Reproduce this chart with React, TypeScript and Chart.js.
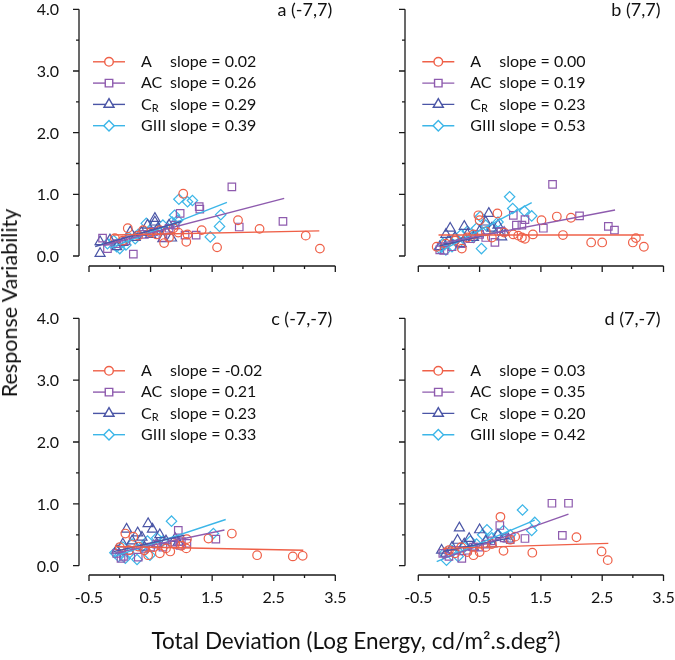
import React, { useEffect, useRef } from 'react';
import { Chart, registerables } from 'chart.js';
import { drawPoint } from 'chart.js/helpers';
Chart.register(...registerables);

const FONT = 'Lato, "Open Sans", sans-serif';

// ---------- series meta ----------
const seriesNames = ['A', 'AC', 'C_R', 'GIII'];
const seriesColors = ['#EF6048', '#8E5BAE', '#4A55A6', '#3CB6E8'];
const seriesMarkers = ['circle', 'rect', 'triangle', 'rectRot'];
const markerRadius = [4.3, 5.3, 5.8, 5.2];

const panelTitles = ['a (-7,7)', 'b (7,7)', 'c (-7,-7)', 'd (7,-7)'];
const yTickValues = [0, 1, 2, 3, 4];
const yTickLabels = ['0.0', '1.0', '2.0', '3.0', '4.0'];
const xTickValues = [-0.5, 0.5, 1.5, 2.5, 3.5];
const xTickLabels = ['-0.5', '0.5', '1.5', '2.5', '3.5'];

// ---------- panel a (-7,7) ----------
const aAx = [-0.08, 0.05, 0.13, 0.3, 0.38, 0.5, 0.6, 0.65, 0.72, 0.8, 0.87, 0.95, 1.03, 1.08, 1.1, 1.33, 1.58, 1.92, 2.27, 3.02, 3.25];
const aAy = [0.29, 0.25, 0.45, 0.33, 0.42, 0.38, 0.35, 0.42, 0.21, 0.3, 0.45, 0.38, 1.01, 0.23, 0.35, 0.42, 0.14, 0.58, 0.44, 0.33, 0.12];
const aACx = [-0.28, -0.2, -0.05, 0.1, 0.22, 0.4, 0.55, 0.7, 0.8, 0.9, 0.98, 1.06, 1.24, 1.29, 1.3, 1.82, 1.94, 2.65];
const aACy = [0.29, 0.12, 0.2, 0.25, 0.03, 0.35, 0.4, 0.3, 0.45, 0.5, 0.69, 0.34, 0.34, 0.8, 0.76, 1.12, 0.47, 0.56];
const aCRx = [-0.32, -0.32, -0.16, -0.05, 0.05, 0.17, 0.25, 0.35, 0.45, 0.5, 0.57, 0.57, 0.62, 0.7, 0.75, 0.8, 0.84];
const aCRy = [0.04, 0.23, 0.26, 0.15, 0.22, 0.39, 0.3, 0.38, 0.5, 0.35, 0.61, 0.55, 0.45, 0.28, 0.4, 0.5, 0.29];
const aGx = [-0.2, -0.1, -0.05, 0.0, 0.05, 0.1, 0.15, 0.25, 0.3, 0.43, 0.5, 0.6, 0.7, 0.85, 0.89, 0.94, 0.96, 1.1, 1.18, 1.47, 1.62, 1.64];
const aGy = [0.2, 0.25, 0.15, 0.12, 0.22, 0.18, 0.3, 0.28, 0.35, 0.53, 0.4, 0.42, 0.5, 0.55, 0.66, 0.58, 0.92, 0.88, 0.9, 0.31, 0.48, 0.67];
const aSlopes = [0.02, 0.26, 0.29, 0.39];
const aIntercepts = [0.342, 0.24, 0.27, 0.19];
const aFitStart = [-0.11, -0.27, -0.4, -0.16];
const aFitEnd = [3.24, 2.67, 1.0, 1.74];

// ---------- panel b (7,7) ----------
const bAx = [-0.2, -0.05, 0.1, 0.21, 0.3, 0.4, 0.48, 0.5, 0.6, 0.7, 0.79, 0.9, 1.05, 1.13, 1.19, 1.24, 1.37, 1.51, 1.76, 1.86, 1.99, 2.32, 2.5, 3.0, 3.05, 3.18];
const bAy = [0.15, 0.2, 0.25, 0.12, 0.3, 0.35, 0.66, 0.58, 0.4, 0.3, 0.69, 0.38, 0.35, 0.33, 0.3, 0.28, 0.35, 0.58, 0.64, 0.34, 0.62, 0.22, 0.22, 0.22, 0.29, 0.15];
const bACx = [-0.15, -0.08, 0.05, 0.2, 0.35, 0.5, 0.6, 0.75, 0.85, 1.05, 1.1, 1.19, 1.24, 1.54, 1.69, 2.13, 2.6, 2.7];
const bACy = [0.1, 0.09, 0.15, 0.2, 0.28, 0.35, 0.3, 0.22, 0.4, 0.66, 0.5, 0.5, 0.59, 0.45, 1.16, 0.65, 0.48, 0.42];
const bCRx = [-0.15, -0.05, 0.0, 0.02, 0.1, 0.2, 0.25, 0.3, 0.4, 0.5, 0.6, 0.65, 0.7, 0.8, 0.86, 0.9];
const bCRy = [0.15, 0.35, 0.25, 0.45, 0.3, 0.2, 0.48, 0.35, 0.3, 0.4, 0.55, 0.69, 0.45, 0.5, 0.31, 0.38];
const bGx = [-0.15, -0.1, -0.05, 0.0, 0.05, 0.1, 0.15, 0.2, 0.3, 0.4, 0.45, 0.51, 0.53, 0.6, 0.7, 0.8, 0.99, 1.04, 1.23, 1.35];
const bGy = [0.12, 0.2, 0.1, 0.25, 0.15, 0.3, 0.2, 0.35, 0.4, 0.3, 0.45, 0.64, 0.12, 0.5, 0.45, 0.55, 0.96, 0.77, 0.73, 0.65];
const bSlopes = [0.0, 0.19, 0.23, 0.53];
const bIntercepts = [0.34, 0.23, 0.2, 0.15];
const bFitStart = [-0.17, -0.2, -0.15, -0.15];
const bFitEnd = [3.18, 2.71, 0.95, 1.35];

// ---------- panel c (-7,-7) ----------
const cAx = [0.0, 0.09, 0.15, 0.22, 0.3, 0.4, 0.46, 0.55, 0.65, 0.75, 0.82, 0.9, 1.0, 1.08, 1.09, 1.44, 1.82, 2.23, 2.81, 2.97];
const cAy = [0.3, 0.52, 0.25, 0.47, 0.31, 0.25, 0.17, 0.3, 0.2, 0.28, 0.23, 0.35, 0.32, 0.28, 0.43, 0.44, 0.52, 0.17, 0.15, 0.16];
const cACx = [-0.05, 0.02, 0.06, 0.15, 0.3, 0.4, 0.5, 0.6, 0.7, 0.85, 0.95, 0.98, 1.0, 1.09, 1.56];
const cACy = [0.2, 0.12, 0.15, 0.25, 0.14, 0.28, 0.3, 0.35, 0.3, 0.38, 0.57, 0.33, 0.39, 0.36, 0.43];
const cCRx = [-0.05, 0.05, 0.11, 0.2, 0.29, 0.36, 0.4, 0.46, 0.53, 0.6, 0.65, 0.75, 0.9, 0.95];
const cCRy = [0.25, 0.35, 0.59, 0.4, 0.53, 0.46, 0.3, 0.68, 0.59, 0.35, 0.5, 0.4, 0.44, 0.38];
const cGx = [-0.08, -0.02, 0.05, 0.09, 0.15, 0.2, 0.28, 0.35, 0.45, 0.49, 0.6, 0.7, 0.84, 1.52];
const cGy = [0.21, 0.15, 0.3, 0.12, 0.2, 0.35, 0.1, 0.3, 0.4, 0.17, 0.45, 0.4, 0.72, 0.52];
const cSlopes = [-0.02, 0.21, 0.23, 0.33];
const cIntercepts = [0.31, 0.22, 0.25, 0.18];
const cFitStart = [-0.08, -0.08, -0.1, -0.1];
const cFitEnd = [2.98, 1.7, 1.05, 1.72];

// ---------- panel d (7,-7) ----------
const dAx = [0.0, 0.1, 0.2, 0.3, 0.4, 0.5, 0.6, 0.7, 0.84, 0.89, 1.0, 1.08, 1.36, 2.08, 2.49, 2.59];
const dAy = [0.25, 0.2, 0.3, 0.22, 0.17, 0.22, 0.3, 0.35, 0.79, 0.24, 0.42, 0.47, 0.21, 0.46, 0.23, 0.09];
const dACx = [-0.1, 0.0, 0.1, 0.21, 0.3, 0.4, 0.5, 0.6, 0.7, 0.83, 0.9, 1.0, 1.24, 1.68, 1.85, 1.95];
const dACy = [0.2, 0.15, 0.25, 0.12, 0.25, 0.3, 0.3, 0.35, 0.4, 0.65, 0.45, 0.42, 0.44, 1.01, 0.49, 1.01];
const dCRx = [-0.12, -0.05, 0.05, 0.14, 0.17, 0.25, 0.33, 0.4, 0.5, 0.6, 0.7, 0.8, 0.97];
const dCRy = [0.25, 0.2, 0.3, 0.41, 0.61, 0.35, 0.44, 0.3, 0.58, 0.4, 0.35, 0.5, 0.43];
const dGx = [-0.08, -0.04, 0.05, 0.15, 0.25, 0.35, 0.45, 0.55, 0.62, 0.7, 0.8, 0.89, 1.0, 1.2, 1.35, 1.4];
const dGy = [0.2, 0.09, 0.25, 0.15, 0.3, 0.4, 0.35, 0.5, 0.58, 0.45, 0.5, 0.57, 0.5, 0.9, 0.57, 0.7];
const dSlopes = [0.03, 0.35, 0.2, 0.42];
const dIntercepts = [0.283, 0.15, 0.25, 0.15];
const dFitStart = [-0.1, -0.1, -0.1, -0.2];
const dFitEnd = [2.6, 1.95, 1.0, 1.4];

const panels = [
  { title: panelTitles[0], xs: [aAx, aACx, aCRx, aGx], ys: [aAy, aACy, aCRy, aGy], slopes: aSlopes, intercepts: aIntercepts, fs: aFitStart, fe: aFitEnd },
  { title: panelTitles[1], xs: [bAx, bACx, bCRx, bGx], ys: [bAy, bACy, bCRy, bGy], slopes: bSlopes, intercepts: bIntercepts, fs: bFitStart, fe: bFitEnd },
  { title: panelTitles[2], xs: [cAx, cACx, cCRx, cGx], ys: [cAy, cACy, cCRy, cGy], slopes: cSlopes, intercepts: cIntercepts, fs: cFitStart, fe: cFitEnd },
  { title: panelTitles[3], xs: [dAx, dACx, dCRx, dGx], ys: [dAy, dACy, dCRy, dGy], slopes: dSlopes, intercepts: dIntercepts, fs: dFitStart, fe: dFitEnd },
];

// layout geometry (page pixels)
const geom = [
  { left: 0, top: 0, w: 352, h: 300, axisX: 79, xA: 89, xB: 335.3, yTop: 9.3, yZero: 256, axisY: 266, yLabels: true, xLabels: false },
  { left: 352, top: 0, w: 323, h: 300, axisX: 405, xA: 418.3, xB: 663.5, yTop: 9.3, yZero: 256, axisY: 266, yLabels: false, xLabels: false },
  { left: 0, top: 300, w: 352, h: 360, axisX: 79, xA: 89, xB: 335.3, yTop: 318.3, yZero: 565.7, axisY: 575, yLabels: true, xLabels: true },
  { left: 352, top: 300, w: 323, h: 360, axisX: 405, xA: 418.3, xB: 663.5, yTop: 318.3, yZero: 565.7, axisY: 575, yLabels: false, xLabels: true },
];

const AXIS_COLOR = '#1a1a1a';

const offsetAxesPlugin = {
  id: 'offsetAxes',
  afterDraw(chart: any, _args: any, opts: any) {
    const { ctx, chartArea } = chart;
    const xs = chart.scales.x;
    const ys = chart.scales.y;
    ctx.save();
    ctx.strokeStyle = AXIS_COLOR;
    ctx.lineWidth = 1.3;
    // y axis
    const ax = chartArea.left;
    const y0 = ys.getPixelForValue(0);
    const y4 = ys.getPixelForValue(4);
    ctx.beginPath();
    ctx.moveTo(ax, y0);
    ctx.lineTo(ax, y4);
    for (let v = 0; v <= 4.001; v += 0.5) {
      const py = ys.getPixelForValue(v);
      const len = Math.abs(v - Math.round(v)) < 1e-6 ? 6 : 3;
      ctx.moveTo(ax - len, py);
      ctx.lineTo(ax, py);
    }
    ctx.stroke();
    // x axis
    const ay = chartArea.bottom;
    const xA = xs.getPixelForValue(-0.5);
    const xB = xs.getPixelForValue(3.5);
    ctx.beginPath();
    ctx.moveTo(xA, ay);
    ctx.lineTo(xB, ay);
    for (let v = -0.5; v <= 3.501; v += 0.5) {
      const px = xs.getPixelForValue(v);
      const major = xTickValues.some((t) => Math.abs(t - v) < 1e-6);
      ctx.moveTo(px, ay);
      ctx.lineTo(px, ay + (major ? 6 : 3));
    }
    ctx.stroke();

    ctx.fillStyle = '#111';
    if (opts.yLabels) {
      ctx.font = `16px ${FONT}`;
      ctx.textAlign = 'right';
      ctx.textBaseline = 'middle';
      yTickValues.forEach((v, i) => {
        ctx.fillText(yTickLabels[i], ax - 20, ys.getPixelForValue(v) + 1);
      });
    }
    if (opts.xLabels) {
      ctx.font = `16px ${FONT}`;
      ctx.textAlign = 'center';
      ctx.textBaseline = 'middle';
      xTickValues.forEach((v, i) => {
        ctx.fillText(xTickLabels[i], xs.getPixelForValue(v), ay + 23);
      });
    }
    // title
    ctx.font = `18px ${FONT}`;
    ctx.textAlign = 'right';
    ctx.textBaseline = 'middle';
    ctx.fillText(opts.title, xB - 3, y4 + 1);

    // legend
    const lx = xA;
    seriesNames.forEach((name, i) => {
      const ry = y4 + 52.5 + i * 21.3;
      ctx.strokeStyle = seriesColors[i];
      ctx.lineWidth = 1.4;
      ctx.beginPath();
      ctx.moveTo(lx + 4, ry);
      ctx.lineTo(lx + 36, ry);
      ctx.stroke();
      ctx.fillStyle = '#ffffff';
      drawPoint(ctx, { pointStyle: seriesMarkers[i], radius: markerRadius[i], borderWidth: 1.3, rotation: 0 } as any, lx + 20, ry);
      ctx.fillStyle = '#111';
      ctx.textAlign = 'left';
      ctx.textBaseline = 'middle';
      ctx.font = `16px ${FONT}`;
      if (name === 'C_R') {
        ctx.fillText('C', lx + 52, ry);
        const cw = ctx.measureText('C').width;
        ctx.font = `11px ${FONT}`;
        ctx.fillText('R', lx + 52 + cw, ry + 4);
        ctx.font = `16px ${FONT}`;
      } else {
        ctx.fillText(name, lx + 52, ry);
      }
      ctx.fillText('slope = ' + opts.slopes[i].toFixed(2), lx + 81, ry);
    });
    ctx.restore();
  },
};

function Panel({ idx }: { idx: number }) {
  const ref = useRef<HTMLCanvasElement | null>(null);
  useEffect(() => {
    const g = geom[idx];
    const p = panels[idx];
    const pxPerX = (g.xB - g.xA) / 4;
    const pxPerY = (g.yZero - g.yTop) / 4;
    const xMin = -0.5 - (g.xA - g.axisX) / pxPerX;
    const yMin = -(g.axisY - g.yZero) / pxPerY;
    const datasets: any[] = [];
    seriesNames.forEach((_, s) => {
      const m = p.slopes[s];
      const b = p.intercepts[s];
      datasets.push({
        label: seriesNames[s] + ' fit',
        data: [
          { x: p.fs[s], y: b + m * p.fs[s] },
          { x: p.fe[s], y: b + m * p.fe[s] },
        ],
        showLine: true,
        borderColor: seriesColors[s],
        borderWidth: 1.4,
        pointRadius: 0,
        fill: false,
        clip: false,
        order: 0,
      });
    });
    seriesNames.forEach((_, s) => {
      datasets.push({
        label: seriesNames[s],
        data: p.xs[s].map((x, i) => ({ x, y: p.ys[s][i] })),
        showLine: false,
        pointStyle: seriesMarkers[s],
        pointRadius: markerRadius[s],
        pointBorderWidth: 1.2,
        borderColor: seriesColors[s],
        backgroundColor: 'rgba(0,0,0,0)',
        pointBackgroundColor: 'rgba(0,0,0,0)',
        clip: false,
        order: 1,
      });
    });
    const chart = new Chart(ref.current as HTMLCanvasElement, {
      type: 'scatter',
      data: { datasets },
      options: {
        responsive: false,
        animation: false,
        devicePixelRatio: 1,
        layout: {
          padding: {
            left: g.axisX - g.left,
            right: g.left + g.w - g.xB,
            top: g.yTop - g.top,
            bottom: g.top + g.h - g.axisY,
          },
        },
        scales: {
          x: { type: 'linear', min: xMin, max: 3.5, display: false },
          y: { type: 'linear', min: yMin, max: 4, display: false },
        },
        plugins: {
          legend: { display: false },
          tooltip: { enabled: false },
          offsetAxes: { title: p.title, slopes: p.slopes, yLabels: g.yLabels, xLabels: g.xLabels },
        } as any,
      },
      plugins: [offsetAxesPlugin],
    });
    return () => chart.destroy();
  }, [idx]);
  const g = geom[idx];
  return (
    <canvas
      ref={ref}
      width={g.w}
      height={g.h}
      style={{ position: 'absolute', left: g.left, top: g.top, width: g.w, height: g.h }}
    />
  );
}

export default function App() {
  return (
    <div style={{ position: 'fixed', left: 0, top: 0, width: 675, height: 660, background: '#fff', overflow: 'hidden' }}>
      {[0, 1, 2, 3].map((i) => (
        <Panel key={i} idx={i} />
      ))}
      <div
        style={{
          position: 'absolute',
          left: 9,
          top: 303,
          transform: 'translate(-50%, -50%) rotate(-90deg)',
          whiteSpace: 'nowrap',
          font: `21.5px ${FONT}`,
          color: '#111',
        }}
      >
        Response Variability
      </div>
      <div
        style={{
          position: 'absolute',
          left: 356,
          top: 640,
          transform: 'translate(-50%, -50%)',
          whiteSpace: 'nowrap',
          font: `22.5px ${FONT}`,
          color: '#111',
        }}
      >
        Total Deviation (Log Energy, cd/m².s.deg²)
      </div>
    </div>
  );
}
